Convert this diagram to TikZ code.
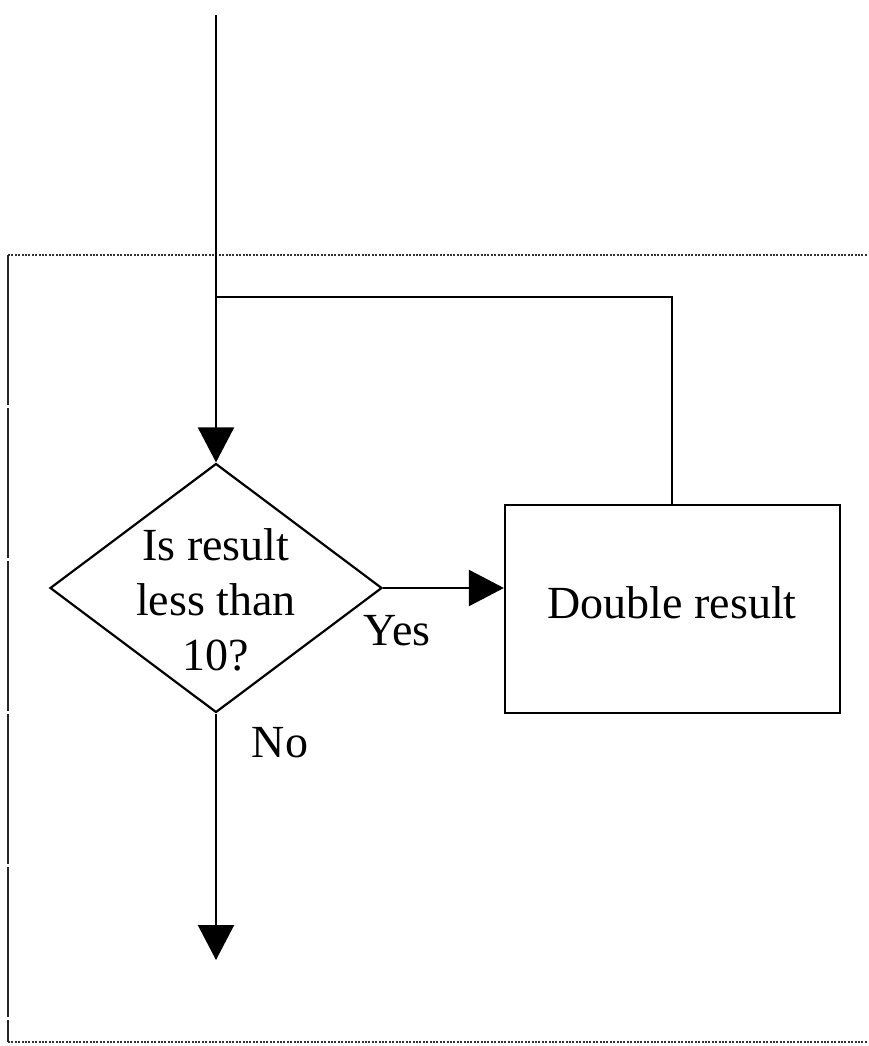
\documentclass[tikz,border=0pt]{standalone}
\usepackage{fontspec}
\setmainfont{Liberation Serif}
\usetikzlibrary{shapes.geometric,arrows.meta}
\begin{document}
\begin{tikzpicture}[x=1pt,y=-1pt,
  line/.style={line width=2.2pt,draw=black},
  arr/.style={line, -{Triangle[length=35pt,width=36pt]}},
  lbl/.style={font=\fontsize{46}{55}\selectfont, inner sep=0pt},
  frameedge/.style={line width=1.6pt, draw=black!80, dash pattern=on 2pt off 1.4pt},
  frameleft/.style={line width=1.8pt, draw=black!85, dash pattern=on 150pt off 3pt}
]
\useasboundingbox (0,0) rectangle (868,1046);
% frame
\coordinate (ftl) at (8,255);
\coordinate (ftr) at (868,255);
\coordinate (fbl) at (8,1042);
\coordinate (fbr) at (868,1042);
\draw[frameedge] (ftl) -- (ftr);
\draw[frameedge] (fbl) -- (fbr);
\draw[frameleft] (ftl) -- (fbl);
% shapes
\node[diamond, line, minimum width=332pt, minimum height=249pt, inner sep=0pt] (dec) at (216,588) {};
\node[lbl, anchor=base] (dectext) at (216,615) {less than};
\node[lbl, anchor=base] (dectop) at (216,560) {Is result};
\node[lbl, anchor=base] (decbot) at (216,670) {10?};
\node[rectangle, line, minimum width=335pt, minimum height=208pt, inner sep=0pt] (dbl) at (672.5,609) {};
\node[lbl, anchor=base] (dbltext) at (672,618) {Double result};
\node[lbl, anchor=base] (yes) at (397,645) {Yes};
\node[lbl, anchor=base] (no) at (280,757) {No};
% connectors
\coordinate (start) at (216,15);
\coordinate (join) at (216,297);
\coordinate (loopc) at (672,297);
\coordinate (endp) at (216,960);
\draw[arr] (start) -- (dec.north);
\draw[line] (dbl.north -| loopc) -- (loopc) -- (join);
\draw[arr] (dec.east) -- (dec.east -| dbl.west);
\draw[arr] (dec.south) -- (endp);
\end{tikzpicture}
\end{document}
